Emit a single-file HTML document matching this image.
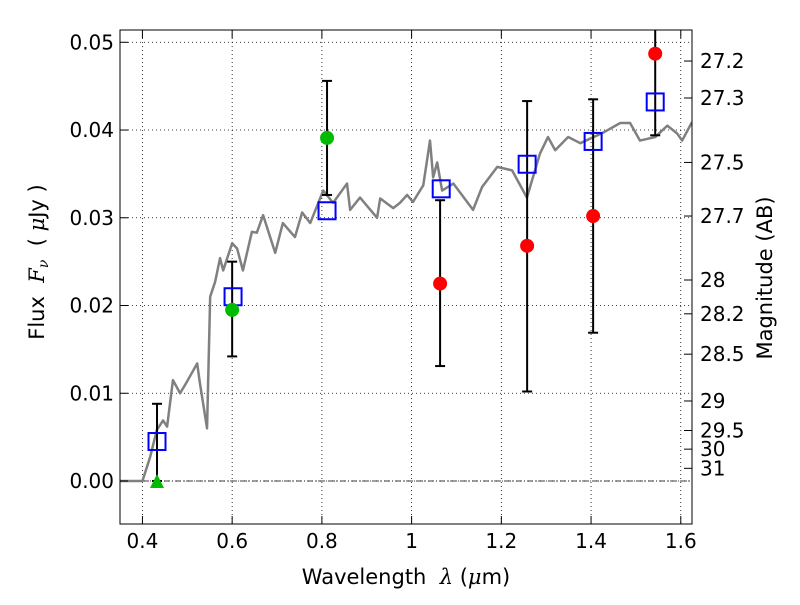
<!DOCTYPE html>
<html><head><meta charset="utf-8"><style>
body{margin:0;background:#fff}
text{font-family:"DejaVu Sans","Liberation Sans",sans-serif;fill:#000}
</style></head><body>
<svg id="chart" width="800" height="600" xmlns="http://www.w3.org/2000/svg">
<defs><clipPath id="pc"><rect x="120" y="30" width="572" height="494"/></clipPath></defs>
</svg>
<script>
const specLam=[0.35,0.40,0.417,0.432,0.446,0.455,0.468,0.484,0.499,0.522,0.528,0.544,0.551,0.562,0.573,0.580,0.600,0.611,0.624,0.644,0.655,0.669,0.696,0.713,0.740,0.756,0.774,0.803,0.825,0.856,0.863,0.885,0.923,0.930,0.959,0.974,0.990,1.003,1.026,1.041,1.048,1.057,1.068,1.093,1.137,1.157,1.191,1.224,1.257,1.286,1.304,1.320,1.349,1.376,1.427,1.465,1.487,1.509,1.543,1.570,1.592,1.603,1.625];
const specFlux=[0,0,0.0027,0.0058,0.0069,0.0062,0.0115,0.0100,0.0113,0.0134,0.0112,0.0060,0.0210,0.0227,0.0254,0.0240,0.0271,0.0265,0.0240,0.0284,0.0283,0.0303,0.0260,0.0294,0.0278,0.0306,0.0294,0.0331,0.0317,0.0339,0.0309,0.0323,0.0300,0.0322,0.0311,0.0317,0.0326,0.0318,0.0337,0.0388,0.0346,0.0363,0.0331,0.0339,0.0309,0.0335,0.0358,0.0354,0.0323,0.0373,0.0392,0.0377,0.0392,0.0385,0.0397,0.0408,0.0408,0.0388,0.0392,0.0405,0.0396,0.0388,0.0409];
const modelLam=[0.4325,0.602,0.8115,1.066,1.2575,1.4046,1.543];
const modelFlux=[0.0045,0.0210,0.0308,0.0333,0.0361,0.0387,0.0432];
const obsLam=[0.4325,0.600,0.8115,1.0635,1.2575,1.4046,1.543];
const obsFlux=[0.0,0.0195,0.0391,0.0225,0.0268,0.0302,0.0487];
const obsLo=[0.0,0.0142,0.0326,0.0131,0.0102,0.0169,0.0394];
const obsHi=[0.0088,0.0250,0.0456,0.0320,0.0433,0.0435,0.0600];
const obsKind=['upper','green','green','red','red','red','red'];
const xTicks=[0.4,0.6,0.8,1.0,1.2,1.4,1.6];
const xTickLabels=['0.4','0.6','0.8','1','1.2','1.4','1.6'];
const yTicks=[0,0.01,0.02,0.03,0.04,0.05];
const yTickLabels=['0.00','0.01','0.02','0.03','0.04','0.05'];
const magTicks=[27.2,27.3,27.5,27.7,28,28.2,28.5,29,29.5,30,31];

const L=120,R=692,T=30,B=524,xmin=0.35,xmax=1.625,ymin=-0.0049,ymax=0.0514;
const sx=v=>L+(v-xmin)/(xmax-xmin)*(R-L);
const sy=v=>B-(v-ymin)/(ymax-ymin)*(B-T);
const svg=document.getElementById('chart');
const NS='http://www.w3.org/2000/svg';
function mk(tag,attrs,parent){const e=document.createElementNS(NS,tag);for(const k in attrs)e.setAttribute(k,attrs[k]);(parent||svg).appendChild(e);return e;}

xTicks.forEach(v=>{const g=mk('line',{x1:sx(v),x2:sx(v),y1:T,y2:B,stroke:'#000','stroke-width':0.8,'stroke-dasharray':'1,3'});

});
yTicks.forEach(v=>{const g=mk('line',{x1:L,x2:R,y1:sy(v),y2:sy(v),stroke:'#000','stroke-width':0.8,'stroke-dasharray':'1,3'});

});
const z=mk('line',{x1:L,x2:R,y1:sy(0),y2:sy(0),stroke:'#000','stroke-width':0.8,'stroke-dasharray':'6,2,1,2'});



const plot=mk('g',{'clip-path':'url(#pc)'});



const sp=mk('polyline',{points:specLam.map((l,i)=>sx(l)+','+sy(specFlux[i])).join(' '),fill:'none',stroke:'#808080','stroke-width':2.5,'stroke-linejoin':'round'},plot);



obsLam.forEach((l,i)=>{const x=sx(l);
const g=mk('g',{},plot);


mk('line',{x1:x,x2:x,y1:sy(obsLo[i]),y2:sy(obsHi[i]),stroke:'#000','stroke-width':2},g);
mk('line',{x1:x-5,x2:x+5,y1:sy(obsLo[i]),y2:sy(obsLo[i]),stroke:'#000','stroke-width':2},g);
mk('line',{x1:x-5,x2:x+5,y1:sy(obsHi[i]),y2:sy(obsHi[i]),stroke:'#000','stroke-width':2},g);});

modelLam.forEach((l,i)=>{const r=mk('rect',{x:sx(l)-8.5,y:sy(modelFlux[i])-8.5,width:17,height:17,fill:'none',stroke:'#0000ff','stroke-width':2},plot);

});

obsLam.forEach((l,i)=>{const x=sx(l),y=sy(obsFlux[i]);let e;
if(obsKind[i]==='upper'){e=mk('polygon',{points:`${x},${y-7} ${x-7},${y+7} ${x+7},${y+7}`,fill:'#00bb00'},plot);}
else e=mk('circle',{cx:x,cy:y,r:7,fill:obsKind[i]==='green'?'#00bb00':'#ff0000'},plot);

});

const fr=mk('rect',{x:L,y:T,width:R-L,height:B-T,fill:'none',stroke:'#000','stroke-width':1});



xTicks.forEach((v,i)=>{const x=sx(v);
mk('line',{x1:x,x2:x,y1:B,y2:B-8,stroke:'#000'});mk('line',{x1:x,x2:x,y1:T,y2:T+8,stroke:'#000'});
const t=mk('text',{x:x,y:B+24,'text-anchor':'middle','font-size':20});t.textContent=xTickLabels[i];

});
yTicks.forEach((v,i)=>{const y=sy(v);
mk('line',{x1:L,x2:L+8,y1:y,y2:y,stroke:'#000'});
const t=mk('text',{x:L-6,y:y+7,'text-anchor':'end','font-size':20});t.textContent=yTickLabels[i];

});
magTicks.forEach(m=>{const y=sy(Math.pow(10,(23.9-m)/2.5));
mk('line',{x1:R-8,x2:R,y1:y,y2:y,stroke:'#000'});
const t=mk('text',{x:R+8,y:y+7,'font-size':20});t.textContent=String(m);

});

let t=mk('text',{x:406,y:584,'text-anchor':'middle','font-size':21});
t.innerHTML='Wavelength&#160; <tspan font-style="italic" font-family="DejaVu Serif">λ</tspan> (<tspan font-style="italic" font-family="DejaVu Serif">μ</tspan>m)';


t=mk('text',{x:0,y:0,'text-anchor':'middle','font-size':21,transform:'translate(44,262) rotate(-90)'});
t.innerHTML='Flux&#160; <tspan font-style="italic" font-family="DejaVu Serif">F</tspan><tspan font-style="italic" font-family="DejaVu Serif" font-size="14" dy="4">ν</tspan><tspan dy="-4">&#160; ( </tspan><tspan font-style="italic" font-family="DejaVu Serif">μ</tspan>Jy )';


t=mk('text',{x:0,y:0,'text-anchor':'middle','font-size':21,transform:'translate(772,278) rotate(-90)'});
t.textContent='Magnitude (AB)';


</script>
</body></html>
